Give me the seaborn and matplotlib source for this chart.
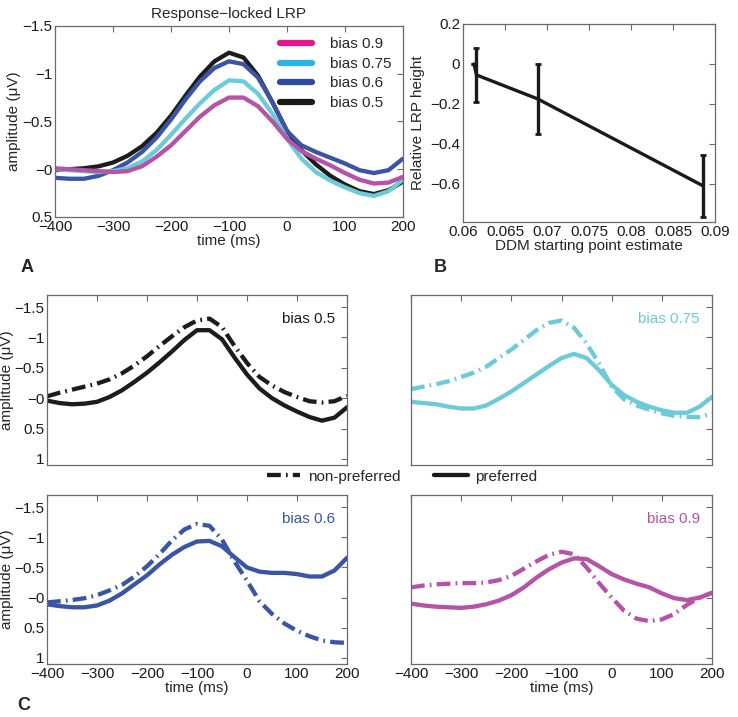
import numpy as np
import pandas as pd
import matplotlib
matplotlib.use("Agg")
import matplotlib.pyplot as plt
from matplotlib.lines import Line2D
import seaborn as sns

# time axis (ms)
time_ms = [-400, -375, -350, -325, -300, -275, -250, -225, -200, -175, -150, -125,
           -100, -75, -50, -25, 0, 25, 50, 75, 100, 125, 150, 175, 200]

# panel A: response-locked LRP per bias level
lrp_05 = [0.01, 0.00, -0.01, -0.03, -0.07, -0.14, -0.24, -0.38, -0.56, -0.77, -0.97, -1.13,
          -1.22, -1.17, -0.98, -0.70, -0.40, -0.20, -0.05, 0.07, 0.16, 0.23, 0.26, 0.22, 0.13]
lrp_06 = [0.09, 0.10, 0.10, 0.07, 0.01, -0.07, -0.18, -0.33, -0.52, -0.73, -0.92, -1.06,
          -1.13, -1.10, -0.96, -0.70, -0.40, -0.25, -0.18, -0.12, -0.06, 0.01, 0.04, 0.01, -0.11]
lrp_075 = [0.00, 0.01, 0.02, 0.03, 0.02, -0.01, -0.08, -0.20, -0.36, -0.53, -0.69, -0.83,
           -0.93, -0.92, -0.79, -0.58, -0.32, -0.11, 0.03, 0.12, 0.19, 0.25, 0.28, 0.23, 0.11]
lrp_09 = [-0.01, 0.00, 0.01, 0.02, 0.03, 0.02, -0.03, -0.13, -0.25, -0.40, -0.55, -0.67,
          -0.75, -0.75, -0.66, -0.50, -0.32, -0.19, -0.11, -0.04, 0.04, 0.11, 0.15, 0.14, 0.08]

# panel B: relative LRP height vs DDM starting point
ddm_start = [0.0613, 0.0616, 0.0689, 0.0886]
rel_height = [0.0, -0.055, -0.175, -0.61]
rel_err = [0.0, 0.135, 0.175, 0.155]

# panel C: preferred (solid) vs non-preferred (dash-dot)
pref_05 = [0.04, 0.08, 0.10, 0.09, 0.06, -0.02, -0.13, -0.27, -0.42, -0.59, -0.77, -0.96,
           -1.12, -1.12, -0.97, -0.67, -0.39, -0.16, 0.00, 0.12, 0.22, 0.31, 0.37, 0.32, 0.15]
nonp_05 = [-0.03, -0.09, -0.14, -0.19, -0.24, -0.31, -0.41, -0.54, -0.69, -0.86, -1.02, -1.17,
           -1.28, -1.31, -1.17, -0.86, -0.58, -0.35, -0.21, -0.10, -0.02, 0.05, 0.07, 0.05, -0.04]
pref_075 = [0.06, 0.08, 0.10, 0.14, 0.17, 0.17, 0.12, 0.01, -0.11, -0.25, -0.39, -0.53,
            -0.66, -0.73, -0.66, -0.46, -0.22, -0.05, 0.06, 0.14, 0.20, 0.24, 0.24, 0.14, -0.02]
nonp_075 = [-0.15, -0.19, -0.23, -0.28, -0.35, -0.42, -0.52, -0.66, -0.80, -0.96, -1.12, -1.24,
            -1.28, -1.16, -0.90, -0.57, -0.19, 0.02, 0.12, 0.19, 0.25, 0.29, 0.31, 0.31, 0.25]
pref_06 = [0.11, 0.14, 0.16, 0.16, 0.13, 0.05, -0.07, -0.22, -0.37, -0.55, -0.71, -0.84,
           -0.93, -0.94, -0.85, -0.67, -0.50, -0.43, -0.41, -0.41, -0.39, -0.35, -0.35, -0.45, -0.66]
nonp_06 = [0.08, 0.06, 0.04, 0.01, -0.04, -0.12, -0.21, -0.35, -0.52, -0.72, -0.95, -1.13,
           -1.22, -1.19, -0.96, -0.60, -0.28, 0.06, 0.27, 0.43, 0.55, 0.64, 0.71, 0.74, 0.75]
pref_09 = [0.10, 0.13, 0.15, 0.16, 0.17, 0.15, 0.11, 0.05, -0.04, -0.17, -0.33, -0.47,
           -0.58, -0.65, -0.64, -0.52, -0.39, -0.30, -0.23, -0.17, -0.07, 0.01, 0.04, 0.00, -0.08]
nonp_09 = [-0.17, -0.20, -0.22, -0.23, -0.24, -0.24, -0.25, -0.29, -0.36, -0.48, -0.60, -0.71,
           -0.76, -0.72, -0.50, -0.24, 0.00, 0.22, 0.35, 0.39, 0.36, 0.27, 0.12, 0.00, -0.08]

bias_labels = ["bias 0.9", "bias 0.75", "bias 0.6", "bias 0.5"]
line_colors = {"bias 0.5": "#1c1c1c", "bias 0.6": "#3a55a5",
               "bias 0.75": "#6ccbd8", "bias 0.9": "#b453a8"}
legend_colors = {"bias 0.5": "#1a1a1a", "bias 0.6": "#2c4a9f",
                 "bias 0.75": "#27b7e4", "bias 0.9": "#e5168b"}

FS = 11
sns.set_style("white")
plt.rcParams['font.family'] = ['Liberation Sans', 'DejaVu Sans']
plt.rcParams['font.size'] = FS
plt.rcParams['axes.edgecolor'] = '#6a6a6a'
plt.rcParams['axes.linewidth'] = 0.9
plt.rcParams['xtick.color'] = '#6a6a6a'
plt.rcParams['ytick.color'] = '#6a6a6a'
plt.rcParams['xtick.labelcolor'] = '#1a1a1a'
plt.rcParams['ytick.labelcolor'] = '#1a1a1a'
plt.rcParams['lines.solid_joinstyle'] = 'round'
plt.rcParams['lines.dash_joinstyle'] = 'round'

DASHDOT = (0, (3.2, 1.2, 0.4, 1.2))
LW = 3.1


def matlab_box(ax):
    ax.tick_params(direction='in', top=True, right=True, length=4, width=0.8,
                   labelsize=FS, pad=2)
    for s in ax.spines.values():
        s.set_visible(True)


fig = plt.figure(figsize=(7.38, 7.17), dpi=100)

# ---- panel A
axA = fig.add_axes([0.0745, 0.6974, 0.4715, 0.2664])
dfA = pd.DataFrame({"time": time_ms * 4,
                    "amp": lrp_09 + lrp_075 + lrp_06 + lrp_05,
                    "bias": sum([[b] * len(time_ms) for b in bias_labels], [])})
for b in ["bias 0.5", "bias 0.6", "bias 0.75", "bias 0.9"]:
    sns.lineplot(data=dfA[dfA.bias == b], x="time", y="amp", color=line_colors[b],
                 lw=LW, ax=axA, legend=False)
axA.set_xlim(-400, 200)
axA.set_ylim(0.5, -1.5)
axA.set_xticks([-400, -300, -200, -100, 0, 100, 200])
axA.set_yticks([-1.5, -1, -0.5, 0, 0.5])
axA.set_yticklabels(["\u22121.5", "\u22121", "\u22120.5", "\u22120", "0.5"])
axA.set_xlabel("time (ms)", labelpad=0)
axA.set_ylabel("amplitude (\u03bcV)", labelpad=1)
axA.set_title("Response\u2212locked LRP", fontsize=FS, pad=6)
matlab_box(axA)
handles = [Line2D([0], [0], color=legend_colors[b], lw=4.5) for b in bias_labels]
axA.legend(handles, bias_labels, loc='upper right', frameon=False, fontsize=FS,
           handlelength=2.1, handletextpad=1.2, labelspacing=0.36,
           borderaxespad=0.35)

# ---- panel B
axB = fig.add_axes([0.6274, 0.6904, 0.3415, 0.2762])
sns.lineplot(x=ddm_start, y=rel_height, color='#1a1a1a', lw=2.4, ax=axB,
             sort=False)
axB.errorbar(ddm_start, rel_height, yerr=rel_err, fmt='none', ecolor='#1a1a1a',
             elinewidth=2.4, capsize=2, capthick=2)
axB.set_xlim(0.06, 0.09)
axB.set_ylim(-0.79, 0.2)
axB.set_xticks([0.06, 0.065, 0.07, 0.075, 0.08, 0.085, 0.09])
axB.set_xticklabels(["0.06", "0.065", "0.07", "0.075", "0.08", "0.085", "0.09"])
axB.set_yticks([0.2, 0, -0.2, -0.4, -0.6])
axB.set_yticklabels(["0.2", "0", "\u22120.2", "\u22120.4", "\u22120.6"])
axB.set_xlabel("DDM starting point estimate", labelpad=0)
axB.set_ylabel("Relative LRP height", labelpad=4)
matlab_box(axB)

# ---- panel C
c_panels = [
    ("bias 0.5", pref_05, nonp_05, [0.0637, 0.3515, 0.4065, 0.2371]),
    ("bias 0.75", pref_075, nonp_075, [0.5569, 0.3515, 0.4079, 0.2371]),
    ("bias 0.6", pref_06, nonp_06, [0.0637, 0.0739, 0.4065, 0.2357]),
    ("bias 0.9", pref_09, nonp_09, [0.5569, 0.0739, 0.4079, 0.2357]),
]
for i, (b, pref, nonp, pos) in enumerate(c_panels):
    ax = fig.add_axes(pos)
    col = line_colors[b]
    sns.lineplot(x=time_ms, y=nonp, color=col, lw=LW, ax=ax, linestyle=DASHDOT)
    sns.lineplot(x=time_ms, y=pref, color=col, lw=LW, ax=ax)
    ax.set_xlim(-400, 200)
    ax.set_ylim(1.1, -1.7)
    ax.set_xticks([-400, -300, -200, -100, 0, 100, 200])
    ax.set_yticks([-1.5, -1, -0.5, 0, 0.5, 1])
    ax.set_yticklabels(["\u22121.5", "\u22121", "\u22120.5", "\u22120", "0.5", "1"])
    ax.text(0.96, 0.86, b, color=col, ha='right', va='center',
            transform=ax.transAxes, fontsize=FS)
    matlab_box(ax)
    if i < 2:
        ax.tick_params(labelbottom=False)
        ax.set_xlabel("")
    else:
        ax.set_xlabel("time (ms)", labelpad=0)
    if i % 2 == 1:
        ax.tick_params(labelleft=False)
        ax.set_ylabel("")
    else:
        ax.set_ylabel("amplitude (\u03bcV)", labelpad=0)

c_handles = [Line2D([0], [0], color='#1a1a1a', lw=LW, linestyle=DASHDOT),
             Line2D([0], [0], color='#1a1a1a', lw=LW)]
fig.legend(c_handles, ["non-preferred", "preferred"], loc='center',
           bbox_to_anchor=(0.545, 0.335), ncol=2, frameon=False, fontsize=FS,
           handlelength=2.2, handletextpad=0.5, columnspacing=2.2)

# panel letters
fig.text(27 / 738, 1 - 268 / 717, "A", fontsize=13, fontweight='bold',
         ha='center', va='center')
fig.text(440 / 738, 1 - 268 / 717, "B", fontsize=13, fontweight='bold',
         ha='center', va='center')
fig.text(24 / 738, 1 - 706 / 717, "C", fontsize=13, fontweight='bold',
         ha='center', va='center')

fig.savefig("out.png", dpi=100)
